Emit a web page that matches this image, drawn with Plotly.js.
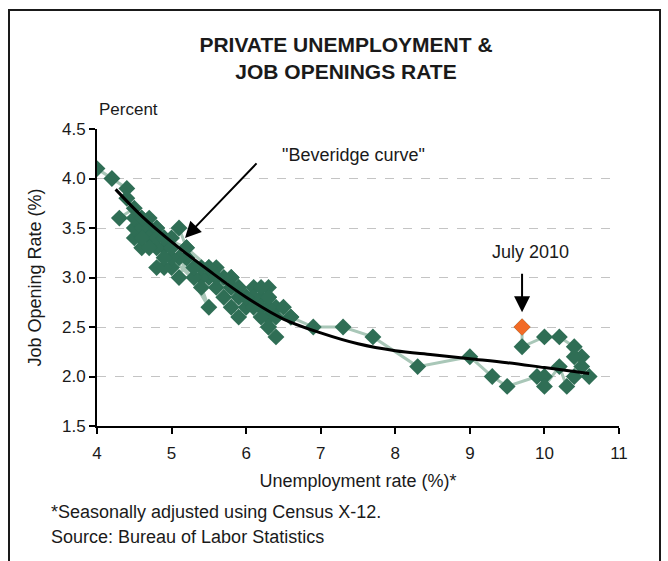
<!DOCTYPE html>
<html>
<head>
<meta charset="utf-8">
<script src="https://cdn.plot.ly/plotly-3.0.1.min.js"></script>
<style>
  html, body { margin: 0; padding: 0; background: #ffffff; }
  #chart { width: 668px; height: 561px; }
</style>
</head>
<body>
<div id="chart"></div>
<script>
// Monthly private-sector unemployment rate (%) and job openings rate (%),
// Dec 2000 through Jul 2010, in time order.
const unemploymentRate = [
  4.0,
  4.2, 4.4, 4.4, 4.5, 4.3, 4.6, 4.7, 4.9, 5.2, 5.5, 5.8, 5.9,
  6.0, 6.1, 6.3, 6.2, 6.3, 6.1, 6.2, 6.0, 6.3, 6.2, 6.4, 6.3,
  6.2, 6.3, 6.4, 6.6, 6.5, 6.3, 6.4, 6.2, 6.3, 6.1, 6.0, 5.9,
  5.8, 5.9, 5.8, 5.7, 5.8, 5.6, 5.7, 5.5, 5.6, 5.4, 5.5, 5.3,
  5.4, 5.2, 5.3, 5.1, 5.2, 5.0, 5.1, 5.5, 5.4, 5.0, 4.9, 4.8,
  4.9, 4.8, 4.7, 4.8, 4.6, 4.7, 4.6, 4.5, 4.6, 4.5, 4.7, 4.6,
  4.7, 4.5, 4.6, 4.8, 4.7, 4.6, 4.8, 4.9, 5.0, 4.9, 5.0, 5.1,
  5.2, 5.3, 5.5, 5.6, 5.8, 5.9, 6.0, 6.3, 6.6, 6.9, 7.3, 7.7,
  8.3, 9.0, 9.3, 9.5, 9.9, 10.0, 10.0, 10.2, 10.3, 10.4, 10.6, 10.5,
  10.5, 10.4, 10.4, 10.2, 10.0, 9.7, 9.7
];
const jobOpeningsRate = [
  4.1,
  4.0, 3.9, 3.8, 3.7, 3.6, 3.6, 3.5, 3.4, 3.3, 3.1, 3.0, 2.9,
  2.8, 2.9, 2.8, 2.8, 2.9, 2.8, 2.7, 2.7, 2.8, 2.9, 2.7, 2.6,
  2.7, 2.5, 2.6, 2.6, 2.7, 2.5, 2.4, 2.6, 2.7, 2.7, 2.8, 2.6,
  2.7, 2.8, 2.9, 2.8, 3.0, 2.9, 3.0, 3.0, 3.1, 3.0, 3.1, 3.1,
  3.1, 3.2, 3.0, 3.0, 3.2, 3.1, 3.2, 2.7, 2.9, 3.2, 3.3, 3.1,
  3.1, 3.3, 3.4, 3.5, 3.4, 3.5, 3.5, 3.4, 3.3, 3.5, 3.6, 3.5,
  3.4, 3.6, 3.6, 3.5, 3.3, 3.4, 3.4, 3.2, 3.3, 3.4, 3.4, 3.5,
  3.3, 3.1, 3.1, 3.0, 2.9, 2.9, 2.8, 2.8, 2.6, 2.5, 2.5, 2.4,
  2.1, 2.2, 2.0, 1.9, 2.0, 2.0, 1.9, 2.1, 1.9, 2.0, 2.0, 2.1,
  2.2, 2.2, 2.3, 2.4, 2.4, 2.3, 2.5
];

// Beveridge curve, traced as a smooth line through these points
const curveX = [4.25, 4.6, 5.0, 5.5, 6.0, 6.5, 7.0, 7.5, 8.0, 8.5, 9.0, 9.5, 10.0, 10.6];
const curveY = [3.89, 3.62, 3.36, 3.07, 2.80, 2.58, 2.44, 2.33, 2.26, 2.22, 2.18, 2.14, 2.09, 2.03];

const yTicks = [1.5, 2.0, 2.5, 3.0, 3.5, 4.0, 4.5];
const yTickLabels = ['1.5', '2.0', '2.5', '3.0', '3.5', '4.0', '4.5'];
const xTicks = [4, 5, 6, 7, 8, 9, 10, 11];

const last = unemploymentRate.length - 1;

const FONT = 'Liberation Sans, Arial, Helvetica, sans-serif';
const INK = '#1a1a1a';
const GREEN = '#2f6e55';
const TRAIL = '#a9c7b8';
const ORANGE = '#f26a25';

const traces = [
  {
    x: unemploymentRate,
    y: jobOpeningsRate,
    type: 'scatter',
    mode: 'lines+markers',
    line: { color: TRAIL, width: 3 },
    marker: { symbol: 'diamond', size: 13, color: GREEN },
    hoverinfo: 'x+y'
  },
  {
    x: curveX,
    y: curveY,
    type: 'scatter',
    mode: 'lines',
    line: { color: '#000000', width: 3, shape: 'spline', smoothing: 1 },
    hoverinfo: 'skip'
  },
  {
    x: [unemploymentRate[last]],
    y: [jobOpeningsRate[last]],
    type: 'scatter',
    mode: 'markers',
    marker: { symbol: 'diamond', size: 13, color: ORANGE },
    hoverinfo: 'x+y'
  }
];

// plot area: 97..619 px wide, 129..426 px tall
const L = 97, T = 129, W = 522, H = 297;
const px = v => (v - L) / W;
const py = v => (T + H - v) / H;

const layout = {
  width: 668,
  height: 561,
  margin: { l: L, r: 668 - L - W, t: T, b: 561 - T - H },
  paper_bgcolor: '#ffffff',
  plot_bgcolor: '#ffffff',
  showlegend: false,
  font: { family: FONT, size: 17, color: INK },
  title: {
    text: '<b>PRIVATE UNEMPLOYMENT &amp;<br>JOB OPENINGS RATE</b>',
    font: { family: FONT, size: 21, color: INK },
    xref: 'paper', x: px(346), xanchor: 'center',
    yref: 'container', y: 1 - 52 / 561, yanchor: 'top'
  },
  xaxis: {
    range: [4, 11],
    tickvals: xTicks,
    ticktext: xTicks.map(String),
    showgrid: false,
    zeroline: false,
    showline: true,
    linecolor: '#000000',
    linewidth: 2,
    ticks: 'outside',
    ticklen: 6,
    tickwidth: 2,
    tickcolor: '#000000',
    ticklabelstandoff: 5,
    tickfont: { family: FONT, size: 17, color: INK },
    title: { text: 'Unemployment rate (%)*', font: { family: FONT, size: 18, color: INK }, standoff: 12 },
    fixedrange: true
  },
  yaxis: {
    range: [1.5, 4.5],
    tickvals: yTicks,
    ticktext: yTickLabels,
    showgrid: true,
    gridcolor: '#c4c4c4',
    griddash: 'dash',
    gridwidth: 1,
    zeroline: false,
    showline: true,
    linecolor: '#000000',
    linewidth: 2,
    ticks: 'outside',
    ticklen: 6,
    tickwidth: 2,
    tickcolor: '#000000',
    tickfont: { family: FONT, size: 17, color: INK },
    title: { text: 'Job Opening Rate (%)', font: { family: FONT, size: 18, color: INK }, standoff: 16 },
    fixedrange: true
  },
  shapes: [
    {
      type: 'rect', xref: 'paper', yref: 'paper',
      x0: px(9), x1: px(660), y0: py(600), y1: py(10),
      line: { color: INK, width: 2 },
      fillcolor: 'rgba(0,0,0,0)',
      layer: 'below'
    }
  ],
  annotations: [
    {
      xref: 'paper', yref: 'paper', x: px(97), y: py(110),
      xanchor: 'left', yanchor: 'middle', showarrow: false,
      text: 'Percent', font: { family: FONT, size: 17, color: INK }
    },
    {
      xref: 'paper', yref: 'paper', x: px(353), y: py(155),
      xanchor: 'center', yanchor: 'middle', showarrow: false,
      text: '"Beveridge curve"', font: { family: FONT, size: 18, color: INK }
    },
    {
      xref: 'x', yref: 'y', x: 5.18, y: 3.40,
      ax: 73, ay: -76, axref: 'pixel', ayref: 'pixel',
      text: '', showarrow: true,
      arrowhead: 2, arrowsize: 1.6, arrowwidth: 2, arrowcolor: '#000000'
    },
    {
      xref: 'paper', yref: 'paper', x: px(530), y: py(252),
      xanchor: 'center', yanchor: 'middle', showarrow: false,
      text: 'July 2010', font: { family: FONT, size: 18, color: INK }
    },
    {
      xref: 'x', yref: 'y', x: unemploymentRate[last], y: 2.65,
      ax: 0, ay: -40, axref: 'pixel', ayref: 'pixel',
      text: '', showarrow: true,
      arrowhead: 2, arrowsize: 1.6, arrowwidth: 2, arrowcolor: '#000000'
    },
    {
      xref: 'paper', yref: 'paper', x: px(49), y: py(512),
      xanchor: 'left', yanchor: 'middle', showarrow: false,
      text: '*Seasonally adjusted using Census X-12.', font: { family: FONT, size: 18, color: INK }
    },
    {
      xref: 'paper', yref: 'paper', x: px(49), y: py(537),
      xanchor: 'left', yanchor: 'middle', showarrow: false,
      text: 'Source: Bureau of Labor Statistics', font: { family: FONT, size: 18, color: INK }
    }
  ]
};

Plotly.newPlot('chart', traces, layout, { displayModeBar: false, staticPlot: true });
</script>
</body>
</html>
